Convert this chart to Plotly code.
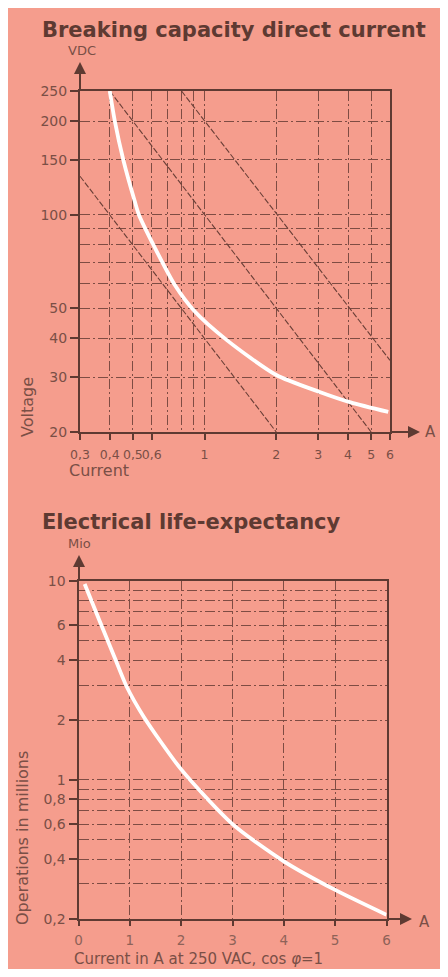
import plotly.graph_objects as go

# The page body keeps its default 8px margin; the figure is sized so that the
# page still fits the 448x977 window. Layout coordinates below are given in
# window pixels and converted.
W, H = 440, 961
OFF = 8

# ---------------- Breaking capacity direct current ----------------
dc_curve_current = [0.4, 0.42, 0.456, 0.51, 0.53, 0.62, 0.75, 0.91, 1.24, 2.0, 3.0, 4.1, 5.9]
dc_curve_voltage = [250, 200, 150, 110, 100, 78, 59.4, 48.8, 39.5, 30.5, 27.0, 24.9, 23.2]
dc_line1_current = [0.3, 2.0]
dc_line1_voltage = [133, 20]
dc_line2_current = [0.4, 5.0]
dc_line2_voltage = [250, 20]
dc_line3_current = [0.8, 6.0]
dc_line3_voltage = [250, 34]
dc_xtick_vals = [0.3, 0.4, 0.5, 0.6, 1, 2, 3, 4, 5, 6]
dc_xtick_text = ["0,3", "0,4", "0,5", "0,6", "1", "2", "3", "4", "5", "6"]
dc_xgrid_extra = [0.7, 0.8, 0.9]
dc_ytick_vals = [20, 30, 40, 50, 100, 150, 200, 250]
dc_ytick_text = ["20", "30", "40", "50", "100", "150", "200", "250"]
dc_ygrid_extra = [60, 70, 80, 90]

# ---------------- Electrical life-expectancy ----------------
life_current = [0.12, 0.4, 0.7, 0.94, 1.27, 2.0, 3.0, 4.0, 5.0, 6.0]
life_ops = [9.65, 6.4, 4.15, 2.94, 2.08, 1.13, 0.6, 0.39, 0.28, 0.21]
life_xtick_vals = [0, 1, 2, 3, 4, 5, 6]
life_xtick_text = ["0", "1", "2", "3", "4", "5", "6"]
life_ytick_vals = [0.2, 0.4, 0.6, 0.8, 1, 2, 4, 6, 10]
life_ytick_text = ["0,2", "0,4", "0,6", "0,8", "1", "2", "4", "6", "10"]
life_ygrid_extra = [0.3, 0.5, 0.7, 0.9, 3, 5, 7, 8, 9]

PINK = "#F59D8D"
DARK = "#5E3A32"
TICKC = "#7A4F46"
GRIDC = "#7E4C43"
FONT = "DejaVu Sans"
GDASH = "10px,3px,2px,3px"


def px(x):
    return (x - OFF) / W


def py(y):
    return 1 - (y - OFF) / H


fig = go.Figure()

thin = dict(color="#6A3F37", width=1.1, dash="6px,2px")
fig.add_trace(go.Scatter(x=dc_line1_current, y=dc_line1_voltage, mode="lines", line=thin,
                         xaxis="x", yaxis="y", showlegend=False))
fig.add_trace(go.Scatter(x=dc_line2_current, y=dc_line2_voltage, mode="lines", line=thin,
                         xaxis="x", yaxis="y", showlegend=False))
fig.add_trace(go.Scatter(x=dc_line3_current, y=dc_line3_voltage, mode="lines", line=thin,
                         xaxis="x", yaxis="y", showlegend=False))
fig.add_trace(go.Scatter(x=dc_curve_current, y=dc_curve_voltage, mode="lines",
                         line=dict(color="white", width=3.8, shape="spline", smoothing=0.7),
                         xaxis="x", yaxis="y", showlegend=False))
fig.add_trace(go.Scatter(x=life_current, y=life_ops, mode="lines",
                         line=dict(color="white", width=3.8, shape="spline", smoothing=0.7),
                         xaxis="x2", yaxis="y2", showlegend=False))

axis_common = dict(
    showline=True, linecolor=DARK, linewidth=2, mirror=True,
    ticks="outside", tickcolor=DARK, tickwidth=1.5, tickangle=0,
    showgrid=True, gridcolor=GRIDC, gridwidth=1, griddash=GDASH,
    zeroline=False, tickfont=dict(family=FONT, size=14, color=TICKC),
    fixedrange=True, automargin=False,
)
minor_common = dict(tickmode="array", showgrid=True, gridcolor=GRIDC, gridwidth=1,
                    griddash=GDASH, ticks="")

fig.update_layout(
    width=W, height=H, autosize=False,
    margin=dict(l=0, r=0, t=0, b=0, pad=0, autoexpand=False),
    paper_bgcolor=PINK, plot_bgcolor="rgba(0,0,0,0)",
    xaxis=dict(axis_common, type="log", domain=[px(80), px(390)], anchor="y",
               range=[-0.5229, 0.7782], tickmode="array",
               tickvals=dc_xtick_vals, ticktext=dc_xtick_text, ticklen=6,
               ticklabelstandoff=4,
               tickfont=dict(family=FONT, size=12.5, color=TICKC),
               minor=dict(minor_common, tickvals=dc_xgrid_extra)),
    yaxis=dict(axis_common, type="log", domain=[py(432), py(91)], anchor="x",
               range=[1.30103, 2.39794], tickmode="array",
               tickvals=dc_ytick_vals, ticktext=dc_ytick_text, ticklen=8,
               minor=dict(minor_common, tickvals=dc_ygrid_extra)),
    xaxis2=dict(axis_common, type="linear", domain=[px(78.5), px(386.5)], anchor="y2",
                range=[0, 6], tickmode="array", tickvals=life_xtick_vals,
                ticktext=life_xtick_text, ticklen=5, ticklabelstandoff=3,
                tickfont=dict(family=FONT, size=13.5, color="#8E6258")),
    yaxis2=dict(axis_common, type="log", domain=[py(919), py(581)], anchor="x2",
                range=[-0.69897, 1.0], tickmode="array",
                tickvals=life_ytick_vals, ticktext=life_ytick_text, ticklen=8,
                minor=dict(minor_common, tickvals=life_ygrid_extra)),
)

ann = []


def text(x, y, s, size=16, color=TICKC, xanchor="center", angle=0, bold=False):
    ann.append(dict(x=px(x), y=py(y), xref="paper", yref="paper", text=s,
                    showarrow=False, xanchor=xanchor, yanchor="middle",
                    textangle=angle,
                    font=dict(family=FONT, size=size, color=color,
                              weight="bold" if bold else "normal")))


def arrow(x0, y0, x1, y1):
    ann.append(dict(x=px(x1), y=py(y1), xref="paper", yref="paper", text="",
                    showarrow=True, ax=x0 - x1, ay=y0 - y1, axref="pixel", ayref="pixel",
                    arrowhead=2, arrowsize=1.2, arrowwidth=2, arrowcolor=DARK, standoff=0))


text(40, 30, "Breaking capacity direct current", size=21, color=DARK, xanchor="left", bold=True)
text(82, 51, "VDC", size=13)
text(430, 432, "A", size=15)
text(67, 470, "Current", size=16, xanchor="left")
text(27, 407, "Voltage", size=16, angle=-90)
arrow(80, 91, 80, 62)
arrow(390, 432, 420, 432)

text(40, 522, "Electrical life-expectancy", size=21, color=DARK, xanchor="left", bold=True)
text(79, 543, "Mio", size=13)
text(424, 922, "A", size=15)
text(22, 838, "Operations in millions", size=16, angle=-90)
text(72, 959, "Current in A at 250 VAC, cos <i>φ</i>=1", size=15, xanchor="left")
arrow(79, 581, 79, 555)
arrow(386.5, 919, 412, 919)

fig.update_layout(annotations=ann)

fig.write_html("out.html", config={"displayModeBar": False})
